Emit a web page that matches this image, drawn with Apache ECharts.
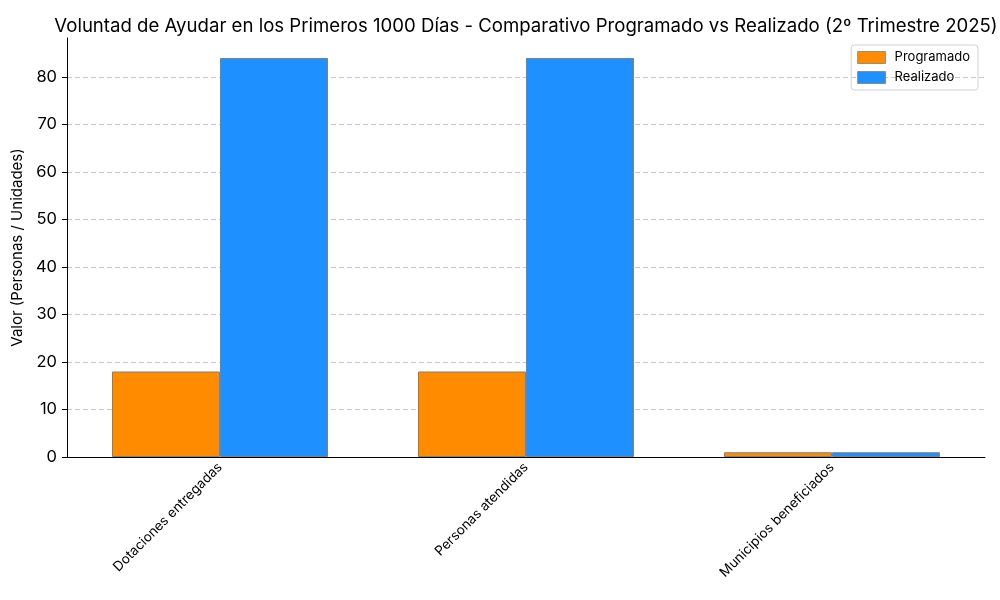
<!DOCTYPE html>
<html><head><meta charset="utf-8">
<script src="https://cdn.jsdelivr.net/npm/echarts@6/dist/echarts.min.js"></script>
<style>html,body{margin:0;padding:0;background:#fff}#c{width:1000px;height:600px}</style>
</head><body><div id="c"></div>
<script>
const categories = ["Dotaciones entregadas", "Personas atendidas", "Municipios beneficiados"];
const programado = [18, 18, 1];
const realizado = [84, 84, 1];
const seriesNames = ["Programado", "Realizado"];
const yTicks = [0, 10, 20, 30, 40, 50, 60, 70, 80];

const FONT = "Inter";
const chart = echarts.init(document.getElementById('c'));
chart.setOption({
  animation: false,
  textStyle: {fontFamily: FONT},
  title: {
    text: "Voluntad de Ayudar en los Primeros 1000 Días - Comparativo Programado vs Realizado (2º Trimestre 2025)",
    left: 521, textAlign: 'center', top: 12,
    textStyle: {fontFamily: FONT, fontSize: 18.6, fontWeight: 'normal', color: '#000'}
  },
  legend: {
    orient: 'vertical', right: 22, top: 45,
    icon: 'rect', itemWidth: 28, itemHeight: 12, itemGap: 7,
    borderColor: '#d0d0d0', borderWidth: 1, borderRadius: 3,
    padding: [6, 8, 6, 6],
    textStyle: {fontFamily: FONT, fontSize: 13, color: '#000', padding: [0, 0, 0, 4]},
    itemStyle: {borderWidth: 0.8},
    data: seriesNames
  },
  grid: {left: 67, right: 15, top: 38, bottom: 143, containLabel: false},
  xAxis: {
    type: 'category', data: categories,
    axisLine: {lineStyle: {color: '#000', width: 1}},
    axisTick: {alignWithLabel: true, length: 5, lineStyle: {color: '#000'}},
    axisLabel: {rotate: 45, fontSize: 13.5, color: '#000', margin: 8, interval: 0}
  },
  yAxis: {
    type: 'value', min: 0, max: 88.2, interval: 10,
    name: "Valor (Personas / Unidades)", nameLocation: 'middle', nameGap: 36,
    nameTextStyle: {fontFamily: FONT, fontSize: 15, color: '#000'},
    axisLine: {show: true, lineStyle: {color: '#000', width: 1}},
    axisTick: {show: true, length: 5, lineStyle: {color: '#000'}},
    axisLabel: {fontSize: 16.5, color: '#000', margin: 10, showMaxLabel: false,
      formatter: v => yTicks.includes(v) ? String(v) : ''},
    splitLine: {show: true, showMaxLine: false, lineStyle: {color: '#c8c8c8', type: [5, 3], width: 1}}
  },
  series: [
    {name: seriesNames[0], type: 'bar', data: programado, barWidth: 108, barGap: '0%',
     itemStyle: {color: '#FF8C00', borderColor: '#808080', borderWidth: 1}},
    {name: seriesNames[1], type: 'bar', data: realizado, barWidth: 108, barGap: '0%',
     itemStyle: {color: '#1E90FF', borderColor: '#808080', borderWidth: 1}}
  ]
});
</script></body></html>
